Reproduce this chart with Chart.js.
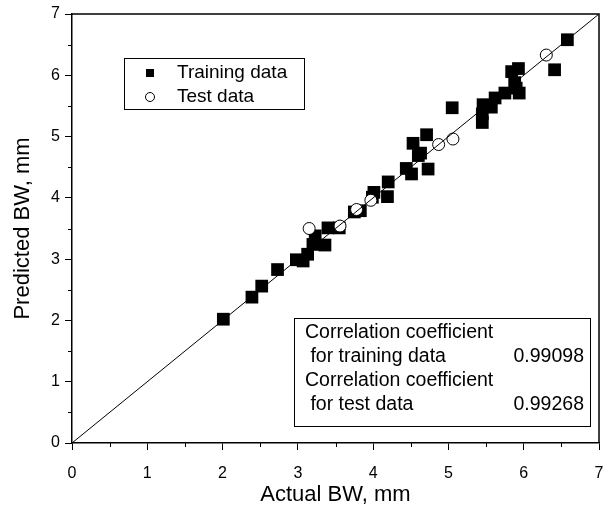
<!DOCTYPE html>
<html>
<head>
<meta charset="utf-8">
<script src="https://cdn.jsdelivr.net/npm/chart.js@4"></script>
<style>
  body { margin: 0; background: #fff; }
  canvas { display: block; }
</style>
</head>
<body>
<canvas id="bw" width="608" height="510"></canvas>
<script>
// values
const trainX = [2.01, 2.39, 2.52, 2.73, 2.98, 3.07, 3.13, 3.20, 3.23, 3.36, 3.40, 3.55, 3.75, 3.83, 3.99, 4.01, 4.19, 4.20, 4.44, 4.51, 4.53, 4.60, 4.63, 4.71, 4.73, 5.05, 5.45, 5.45, 5.46, 5.57, 5.62, 5.75, 5.84, 5.93, 5.88, 5.94, 5.90, 6.41, 6.58];
const trainY = [2.02, 2.38, 2.56, 2.83, 2.99, 2.97, 3.08, 3.24, 3.38, 3.23, 3.51, 3.51, 3.77, 3.79, 4.01, 4.09, 4.02, 4.26, 4.48, 4.39, 4.89, 4.69, 4.73, 5.03, 4.47, 5.47, 5.23, 5.37, 5.52, 5.48, 5.63, 5.71, 6.06, 6.11, 5.88, 5.71, 5.79, 6.09, 6.58];
const testX = [3.15, 3.56, 3.78, 3.97, 4.87, 5.06, 6.30];
const testY = [3.50, 3.54, 3.81, 3.96, 4.87, 4.96, 6.33];
const lineX = [0, 7];
const lineY = [0, 7];
const legendLabels = ['Training data', 'Test data'];
const corrLabels = ['Correlation coefficient', ' for training data', 'Correlation coefficient', ' for test data'];
const corrValues = ['0.99098', '0.99268'];

const FONT = '"Liberation Sans", Arial, sans-serif';

function toPoints(xs, ys) {
  return xs.map((x, i) => ({x: x, y: ys[i]}));
}

// frame, minor ticks, legend and the correlation box
const extras = {
  id: 'extras',
  afterDraw(chart) {
    const ctx = chart.ctx;
    const a = chart.chartArea;
    const sx = chart.scales.x, sy = chart.scales.y;
    ctx.save();
    ctx.strokeStyle = '#000';
    ctx.lineWidth = 1.5;
    ctx.beginPath();
    ctx.moveTo(a.left, a.top);
    ctx.lineTo(a.right, a.top);
    ctx.lineTo(a.right, a.bottom);
    ctx.stroke();

    // minor ticks
    ctx.lineWidth = 1;
    ctx.beginPath();
    for (let v = 0.5; v < 7; v += 1) {
      const px = Math.round(sx.getPixelForValue(v)) + 0.5;
      ctx.moveTo(px, a.bottom);
      ctx.lineTo(px, a.bottom + 4);
      const py = Math.round(sy.getPixelForValue(v)) + 0.5;
      ctx.moveTo(a.left, py);
      ctx.lineTo(a.left - 4, py);
    }
    ctx.stroke();

    // legend
    ctx.lineWidth = 1;
    ctx.strokeRect(124.5, 58.5, 180, 51);
    ctx.fillStyle = '#000';
    ctx.fillRect(146, 69, 8, 8);
    ctx.beginPath();
    ctx.arc(150, 97, 4.5, 0, Math.PI * 2);
    ctx.stroke();
    ctx.font = '19px ' + FONT;
    ctx.textBaseline = 'middle';
    ctx.textAlign = 'left';
    ctx.fillText(legendLabels[0], 177, 73);
    ctx.fillText(legendLabels[1], 177, 97);

    // correlation box
    ctx.fillStyle = '#fff';
    ctx.fillRect(294, 318, 296, 108);
    ctx.strokeRect(294.5, 318.5, 296, 108);
    ctx.fillStyle = '#000';
    ctx.font = '19.5px ' + FONT;
    const rows = [333, 357, 381, 405];
    corrLabels.forEach((t, i) => ctx.fillText(t, 305, rows[i]));
    ctx.textAlign = 'right';
    ctx.fillText(corrValues[0], 584, rows[1]);
    ctx.fillText(corrValues[1], 584, rows[3]);
    ctx.restore();
  }
};

function axis(title, pad, tickPad, size) {
  return {
    type: 'linear',
    min: 0,
    max: 7,
    ticks: {
      stepSize: 1,
      color: '#000',
      font: {family: FONT, size: 16},
      padding: tickPad
    },
    grid: {
      drawOnChartArea: false,
      drawTicks: true,
      tickLength: 7,
      tickColor: '#000',
      tickWidth: 1
    },
    border: {color: '#000', width: 1.5},
    title: {
      display: true,
      text: title,
      color: '#000',
      font: {family: FONT, size: 22},
      padding: pad
    },
    afterFit: s => {
      size(s);
      // keep the plot box fixed, the layout padding already leaves room
      s.paddingLeft = 0;
      s.paddingRight = 0;
      s.paddingTop = 0;
      s.paddingBottom = 0;
    }
  };
}

new Chart(document.getElementById('bw'), {
  type: 'scatter',
  data: {
    datasets: [
      {
        label: 'y = x',
        data: toPoints(lineX, lineY),
        showLine: true,
        borderColor: '#000',
        borderWidth: 1,
        pointRadius: 0
      },
      {
        label: legendLabels[1],
        data: toPoints(testX, testY),
        pointStyle: 'circle',
        pointRadius: 6,
        backgroundColor: '#fff',
        borderColor: '#000',
        borderWidth: 1
      },
      {
        label: legendLabels[0],
        data: toPoints(trainX, trainY),
        pointStyle: 'rect',
        pointRadius: 9,
        backgroundColor: '#000',
        borderColor: '#000',
        borderWidth: 0
      }
    ]
  },
  options: {
    responsive: false,
    animation: false,
    layout: {padding: {top: 14, right: 9, left: 0, bottom: 0}},
    plugins: {legend: {display: false}, tooltip: {enabled: false}},
    scales: {
      x: axis('Actual BW, mm', {top: 2, bottom: 2}, 14, s => { s.height = 67; }),
      y: axis('Predicted BW, mm', {top: 10, bottom: 2}, 5, s => { s.width = 72; })
    }
  },
  plugins: [extras]
});
</script>
</body>
</html>
